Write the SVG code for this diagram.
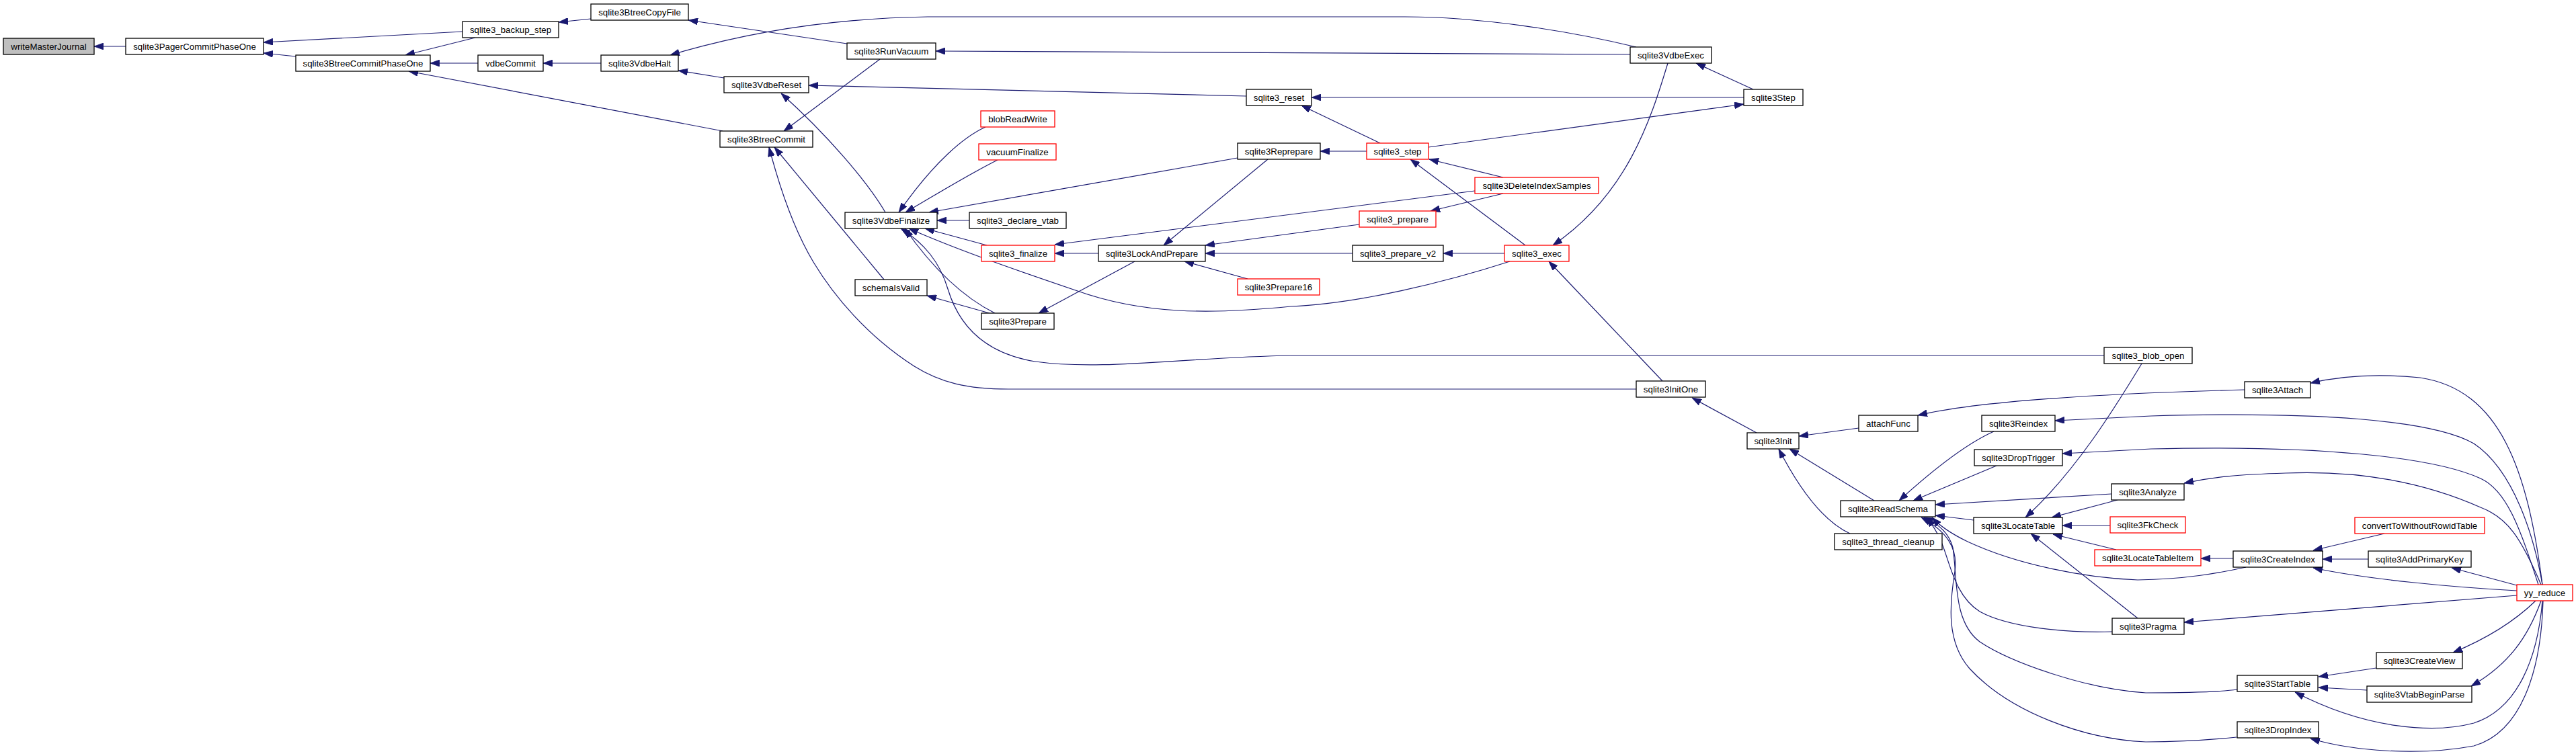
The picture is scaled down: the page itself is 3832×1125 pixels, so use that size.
<svg xmlns="http://www.w3.org/2000/svg" width="3832" height="1125" viewBox="0 0 3832 1125">
<style>
.n rect{fill:#fff;stroke:#000;stroke-width:1.3}
.n.r rect{stroke:#ff0000}
.n.g rect{fill:#bfbfbf}
.n text{font-family:"Liberation Sans",Arial,sans-serif;font-size:13.3px;text-anchor:middle;fill:#000}
.e path{fill:none;stroke:#191970;stroke-width:1.2;marker-end:url(#ah)}
</style>
<defs>
<marker id="ah" markerUnits="userSpaceOnUse" markerWidth="14" markerHeight="10" viewBox="0 0 14 10" refX="14" refY="5" orient="auto">
<path d="M0,0 L14,5 L0,10 z" fill="#191970" stroke="#191970" stroke-width="0.8"/>
</marker>
</defs>
<rect width="3832" height="1125" fill="#fff"/>
<g id="edges" class="e">
<path d="M187,69 L140,69"/>
<path d="M688,47 L392,63"/>
<path d="M440,84 L392,79"/>
<path d="M707,56 L603,82"/>
<path d="M711,94 L640,94"/>
<path d="M1075,195 L608,106"/>
<path d="M879,28 L831,33"/>
<path d="M1260,65 L1024,30"/>
<path d="M894,94 L808,94"/>
<path d="M2434,70 C2330,45 2200,25 2090,25 L1380,25 C1250,27 1120,45 997,82"/>
<path d="M1077,116 L1009,105"/>
<path d="M1317,316 C1290,270 1230,200 1162,139"/>
<path d="M1854,143 L1203,127"/>
<path d="M2594,145 L1951,145"/>
<path d="M2053,213 L1936,157"/>
<path d="M2608,133 L2523,94"/>
<path d="M2125,219 L2594,155"/>
<path d="M2033,225 L1964,225"/>
<path d="M2236,264 L2126,237"/>
<path d="M2269,365 L2098,237"/>
<path d="M2238,377 L2147,377"/>
<path d="M2481,94 C2455,180 2420,290 2310,365"/>
<path d="M2473,567 L2304,389"/>
<path d="M2246,389 C2150,420 2020,452 1920,456 C1800,468 1700,468 1600,432 C1500,398 1420,370 1352,340"/>
<path d="M3130,529 L1920,529 C1760,532 1640,552 1540,538 C1460,525 1425,480 1410,430 C1398,390 1375,362 1340,340"/>
<path d="M2434,579 L1500,579 C1440,579 1400,570 1360,545 C1290,500 1240,440 1210,390 C1180,340 1160,280 1144,219"/>
<path d="M1315,416 L1152,219"/>
<path d="M1309,88 L1166,195"/>
<path d="M2425,81 L1392,76"/>
<path d="M1466,189 C1435,203 1390,240 1337,316"/>
<path d="M1484,238 C1440,260 1400,285 1347,316"/>
<path d="M1841,235 L1382,316"/>
<path d="M1442,328 L1394,328"/>
<path d="M1468,365 L1376,340"/>
<path d="M1480,466 C1440,446 1395,410 1346,340"/>
<path d="M1472,466 L1379,440"/>
<path d="M1688,389 L1545,466"/>
<path d="M1634,377 L1569,377"/>
<path d="M2194,284 L1569,364"/>
<path d="M1886,237 L1731,365"/>
<path d="M2022,334 L1793,365"/>
<path d="M2012,377 L1793,377"/>
<path d="M1856,415 L1762,389"/>
<path d="M2236,288 L2128,314"/>
<path d="M2613,644 L2517,592"/>
<path d="M3186,541 C3150,600 3090,700 3013,770"/>
<path d="M2765,637 L2676,649"/>
<path d="M2788,745 L2662,668"/>
<path d="M2752,794 C2715,777 2680,734 2646,668"/>
<path d="M3339,580 C3150,585 2950,595 2853,618"/>
<path d="M3782,870 C3760,700 3720,580 3600,562 C3530,555 3480,560 3437,570"/>
<path d="M3782,870 C3770,800 3740,700 3680,660 C3620,625 3450,612 3200,619 L3057,626"/>
<path d="M3776,870 C3750,790 3730,730 3690,712 C3620,680 3450,662 3200,668 L3068,675"/>
<path d="M3780,870 C3750,800 3730,770 3690,755 C3600,715 3500,700 3400,704 C3330,706 3290,710 3249,719"/>
<path d="M3141,735 L2879,751"/>
<path d="M3150,744 L3052,770"/>
<path d="M2966,642 C2930,658 2880,695 2825,745"/>
<path d="M2970,693 L2846,745"/>
<path d="M2936,774 L2879,767"/>
<path d="M3139,782 L3068,782"/>
<path d="M3148,818 L3054,795"/>
<path d="M3180,920 L3021,794"/>
<path d="M3341,844 C3300,853 3250,862 3180,863 C3100,860 3000,840 2927,806 C2900,793 2885,782 2874,770"/>
<path d="M3142,940 C3080,942 2990,935 2945,910 C2905,885 2900,830 2885,800 C2878,785 2872,778 2866,770"/>
<path d="M3328,1026 C3300,1030 3250,1031 3192,1031 C3100,1025 2990,985 2945,955 C2905,925 2912,860 2905,815 C2900,795 2885,780 2862,770"/>
<path d="M3327,1097 C3280,1102 3240,1104 3192,1104 C3100,1100 2990,1060 2930,995 C2895,955 2900,900 2908,850 C2913,815 2895,790 2858,770"/>
<path d="M3322,831 L3274,831"/>
<path d="M3547,794 L3441,819"/>
<path d="M3523,832 L3455,832"/>
<path d="M3744,879 C3650,874 3520,862 3441,845"/>
<path d="M3744,871 L3647,845"/>
<path d="M3744,886 L3249,926"/>
<path d="M3772,894 C3740,925 3700,950 3649,971"/>
<path d="M3780,894 C3760,950 3730,990 3676,1021"/>
<path d="M3782,894 C3775,980 3745,1055 3680,1076 C3620,1092 3520,1085 3414,1030"/>
<path d="M3783,894 C3780,1000 3750,1090 3680,1110 C3600,1125 3500,1118 3437,1099"/>
<path d="M3535,994 L3449,1007"/>
<path d="M3521,1027 L3449,1023"/>
</g>
<g id="writeMasterJournal" class="n g"><rect x="5" y="57" width="135" height="24"/><text x="72.5" y="73.7">writeMasterJournal</text></g>
<g id="sqlite3PagerCommitPhaseOne" class="n"><rect x="187" y="57" width="205" height="24"/><text x="289.5" y="73.7">sqlite3PagerCommitPhaseOne</text></g>
<g id="sqlite3BtreeCommitPhaseOne" class="n"><rect x="440" y="82" width="200" height="24"/><text x="540" y="98.7">sqlite3BtreeCommitPhaseOne</text></g>
<g id="sqlite3_backup_step" class="n"><rect x="688" y="32" width="143" height="24"/><text x="759.5" y="48.7">sqlite3_backup_step</text></g>
<g id="sqlite3BtreeCopyFile" class="n"><rect x="879" y="6" width="145" height="24"/><text x="951.5" y="22.7">sqlite3BtreeCopyFile</text></g>
<g id="vdbeCommit" class="n"><rect x="711" y="82" width="97" height="24"/><text x="759.5" y="98.7">vdbeCommit</text></g>
<g id="sqlite3VdbeHalt" class="n"><rect x="894" y="82" width="115" height="24"/><text x="951.5" y="98.7">sqlite3VdbeHalt</text></g>
<g id="sqlite3VdbeReset" class="n"><rect x="1077" y="114" width="126" height="24"/><text x="1140" y="130.7">sqlite3VdbeReset</text></g>
<g id="sqlite3BtreeCommit" class="n"><rect x="1071" y="195" width="138" height="24"/><text x="1140" y="211.7">sqlite3BtreeCommit</text></g>
<g id="sqlite3RunVacuum" class="n"><rect x="1260" y="64" width="132" height="24"/><text x="1326" y="80.7">sqlite3RunVacuum</text></g>
<g id="sqlite3VdbeFinalize" class="n"><rect x="1257" y="316" width="137" height="24"/><text x="1325.5" y="332.7">sqlite3VdbeFinalize</text></g>
<g id="schemaIsValid" class="n"><rect x="1272" y="416" width="107" height="24"/><text x="1325.5" y="432.7">schemaIsValid</text></g>
<g id="blobReadWrite" class="n r"><rect x="1459" y="165" width="110" height="24"/><text x="1514" y="181.7">blobReadWrite</text></g>
<g id="vacuumFinalize" class="n r"><rect x="1456" y="214" width="115" height="24"/><text x="1513.5" y="230.7">vacuumFinalize</text></g>
<g id="sqlite3_declare_vtab" class="n"><rect x="1442" y="316" width="144" height="24"/><text x="1514" y="332.7">sqlite3_declare_vtab</text></g>
<g id="sqlite3_finalize" class="n r"><rect x="1460" y="365" width="109" height="24"/><text x="1514.5" y="381.7">sqlite3_finalize</text></g>
<g id="sqlite3Prepare" class="n"><rect x="1460" y="466" width="108" height="24"/><text x="1514" y="482.7">sqlite3Prepare</text></g>
<g id="sqlite3LockAndPrepare" class="n"><rect x="1634" y="365" width="159" height="24"/><text x="1713.5" y="381.7">sqlite3LockAndPrepare</text></g>
<g id="sqlite3Reprepare" class="n"><rect x="1841" y="213" width="123" height="24"/><text x="1902.5" y="229.7">sqlite3Reprepare</text></g>
<g id="sqlite3_reset" class="n"><rect x="1854" y="133" width="97" height="24"/><text x="1902.5" y="149.7">sqlite3_reset</text></g>
<g id="sqlite3Prepare16" class="n r"><rect x="1841" y="415" width="122" height="24"/><text x="1902" y="431.7">sqlite3Prepare16</text></g>
<g id="sqlite3VdbeExec" class="n"><rect x="2425" y="70" width="121" height="24"/><text x="2485.5" y="86.7">sqlite3VdbeExec</text></g>
<g id="sqlite3_step" class="n r"><rect x="2033" y="213" width="92" height="24"/><text x="2079" y="229.7">sqlite3_step</text></g>
<g id="sqlite3DeleteIndexSamples" class="n r"><rect x="2194" y="264" width="184" height="24"/><text x="2286" y="280.7">sqlite3DeleteIndexSamples</text></g>
<g id="sqlite3_prepare" class="n r"><rect x="2022" y="314" width="114" height="24"/><text x="2079" y="330.7">sqlite3_prepare</text></g>
<g id="sqlite3_prepare_v2" class="n"><rect x="2012" y="365" width="135" height="24"/><text x="2079.5" y="381.7">sqlite3_prepare_v2</text></g>
<g id="sqlite3_exec" class="n r"><rect x="2238" y="365" width="96" height="24"/><text x="2286" y="381.7">sqlite3_exec</text></g>
<g id="sqlite3Step" class="n"><rect x="2594" y="133" width="88" height="24"/><text x="2638" y="149.7">sqlite3Step</text></g>
<g id="sqlite3_blob_open" class="n"><rect x="3130" y="517" width="131" height="24"/><text x="3195.5" y="533.7">sqlite3_blob_open</text></g>
<g id="sqlite3InitOne" class="n"><rect x="2434" y="567" width="103" height="24"/><text x="2485.5" y="583.7">sqlite3InitOne</text></g>
<g id="sqlite3Init" class="n"><rect x="2599" y="644" width="77" height="24"/><text x="2637.5" y="660.7">sqlite3Init</text></g>
<g id="attachFunc" class="n"><rect x="2765" y="618" width="88" height="24"/><text x="2809" y="634.7">attachFunc</text></g>
<g id="sqlite3Reindex" class="n"><rect x="2948" y="618" width="109" height="24"/><text x="3002.5" y="634.7">sqlite3Reindex</text></g>
<g id="sqlite3DropTrigger" class="n"><rect x="2937" y="669" width="131" height="24"/><text x="3002.5" y="685.7">sqlite3DropTrigger</text></g>
<g id="sqlite3ReadSchema" class="n"><rect x="2738" y="745" width="141" height="24"/><text x="2808.5" y="761.7">sqlite3ReadSchema</text></g>
<g id="sqlite3LocateTable" class="n"><rect x="2936" y="770" width="132" height="24"/><text x="3002" y="786.7">sqlite3LocateTable</text></g>
<g id="sqlite3_thread_cleanup" class="n"><rect x="2729" y="794" width="160" height="24"/><text x="2809" y="810.7">sqlite3_thread_cleanup</text></g>
<g id="sqlite3Analyze" class="n"><rect x="3141" y="720" width="108" height="24"/><text x="3195" y="736.7">sqlite3Analyze</text></g>
<g id="sqlite3FkCheck" class="n r"><rect x="3139" y="769" width="112" height="24"/><text x="3195" y="785.7">sqlite3FkCheck</text></g>
<g id="sqlite3LocateTableItem" class="n r"><rect x="3116" y="818" width="158" height="24"/><text x="3195" y="834.7">sqlite3LocateTableItem</text></g>
<g id="sqlite3Pragma" class="n"><rect x="3142" y="920" width="107" height="24"/><text x="3195.5" y="936.7">sqlite3Pragma</text></g>
<g id="sqlite3Attach" class="n"><rect x="3339" y="568" width="98" height="24"/><text x="3388" y="584.7">sqlite3Attach</text></g>
<g id="convertToWithoutRowidTable" class="n r"><rect x="3503" y="770" width="193" height="24"/><text x="3599.5" y="786.7">convertToWithoutRowidTable</text></g>
<g id="sqlite3CreateIndex" class="n"><rect x="3322" y="820" width="133" height="24"/><text x="3388.5" y="836.7">sqlite3CreateIndex</text></g>
<g id="sqlite3AddPrimaryKey" class="n"><rect x="3523" y="820" width="153" height="24"/><text x="3599.5" y="836.7">sqlite3AddPrimaryKey</text></g>
<g id="yy_reduce" class="n r"><rect x="3744" y="870" width="83" height="24"/><text x="3785.5" y="886.7">yy_reduce</text></g>
<g id="sqlite3CreateView" class="n"><rect x="3535" y="971" width="128" height="24"/><text x="3599" y="987.7">sqlite3CreateView</text></g>
<g id="sqlite3StartTable" class="n"><rect x="3328" y="1005" width="120" height="24"/><text x="3388" y="1021.7">sqlite3StartTable</text></g>
<g id="sqlite3VtabBeginParse" class="n"><rect x="3521" y="1021" width="156" height="24"/><text x="3599" y="1037.7">sqlite3VtabBeginParse</text></g>
<g id="sqlite3DropIndex" class="n"><rect x="3328" y="1074" width="121" height="24"/><text x="3388.5" y="1090.7">sqlite3DropIndex</text></g>
</svg>
